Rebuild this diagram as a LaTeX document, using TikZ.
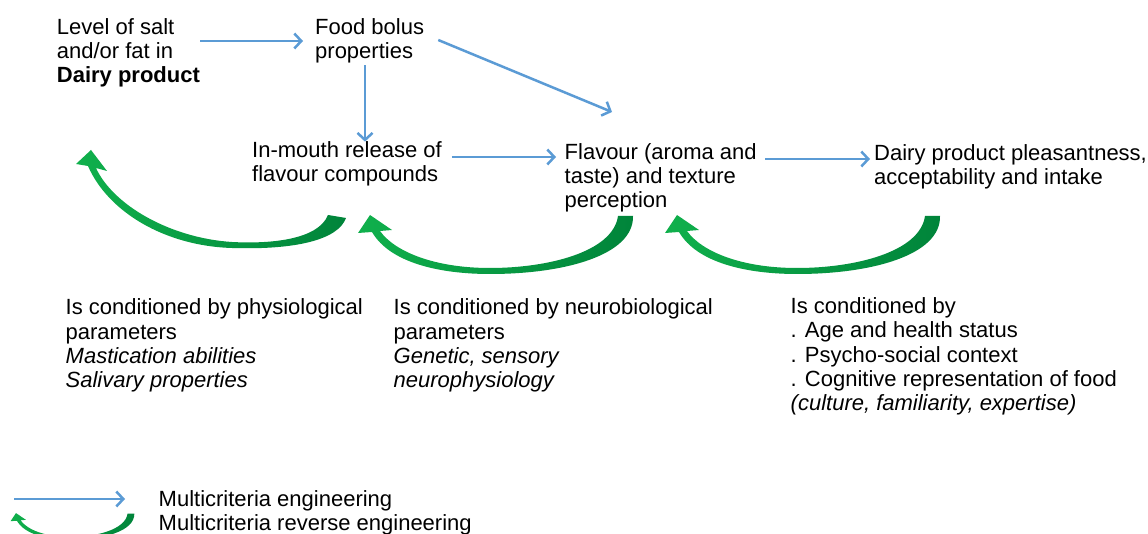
\documentclass[tikz,border=0pt]{standalone}
\usepackage{fontspec}
\setmainfont{Liberation Sans}
\usetikzlibrary{arrows.meta,calc}
\definecolor{bl}{HTML}{5B9BD5}
\definecolor{gbright}{HTML}{10B04C}
\definecolor{gdark}{HTML}{00843A}
\tikzset{
  txt/.style={anchor=base west, align=left, inner sep=0pt, font=\fontsize{22}{24.2}\selectfont},
  barrow/.style={draw=bl, line width=2.5pt, -{Straight Barb[length=7pt,width=15pt]}},
  gshade/.style={left color=gbright, middle color=gbright, right color=gdark},
  garrow/.pic={
    \shade[gshade] (618,216) .. controls (613,252) and (548,268) .. (490,268)
      .. controls (435,268) and (395,252) .. (380,231) -- (392,230) -- (370,215)
      -- (358,233) -- (372,232) .. controls (390,263) and (440,274) .. (490,274)
      .. controls (565,274) and (634,255) .. (633,216) -- cycle;
  }
}
\begin{document}
\begin{tikzpicture}[x=1pt,y=-1pt]
\useasboundingbox (0,0) rectangle (1148,534);
\fill[white] (0,0) rectangle (1148,534);
\clip (0,0) rectangle (1148,534);

% text nodes (positioned at the baseline of their last line)
\node[txt] (lvl) at (56.7,83) {Level of salt\\and/or fat in\\\textbf{Dairy product}};
\node[txt] (bolus) at (315,58.5) {Food bolus\\properties};
\node[txt] (release) at (252,182) {In-mouth release of\\flavour compounds};
\node[txt] (flavour) at (564.5,207.5) {Flavour (aroma and\\taste) and texture\\perception};
\node[txt] (dairy) at (874,185) {Dairy product pleasantness,\\acceptability and intake};
\node[txt] (phys) at (65.5,387.5) {Is conditioned by physiological\\parameters\\\textit{Mastication abilities}\\\textit{Salivary properties}};
\node[txt] (neuro) at (393.5,387.5) {Is conditioned by neurobiological\\parameters\\\textit{Genetic, sensory}\\\textit{neurophysiology}};
\node[txt] (cond) at (790.5,410.5) {Is conditioned by\\. Age and health status\\. Psycho-social context\\. Cognitive representation of food\\\textit{(culture, familiarity, expertise)}};
\node[txt] (leg1) at (158.5,506) {Multicriteria engineering};
\node[txt] (leg2) at (158.5,530) {Multicriteria reverse engineering};

% blue arrows
\coordinate (flin) at (612,112);
\coordinate (la) at (14,499);
\coordinate (lb) at (125,499);
\draw[barrow, shorten >=12pt] (lvl.east |- 0,41) -- (bolus.west |- 0,41);
\draw[barrow, shorten <=2pt] (bolus.south -| 365,0) -- (release.north -| 365,0);
\draw[barrow] ([xshift=14pt]bolus.east |- 0,40) -- (flin);
\draw[barrow, shorten <=10pt, shorten >=8.5pt] (release.east |- 0,157) -- (flavour.west |- 0,157);
\draw[barrow, shorten <=8.5pt, shorten >=4pt] (flavour.east |- 0,159) -- (dairy.west |- 0,159);
\draw[barrow] (la) -- (lb);

% green reverse arrows
\shade[gshade] (328,215) .. controls (318,240) and (270,244) .. (232,242)
  .. controls (170,238) and (113,205) .. (96,168) -- (107,171) -- (91,150)
  -- (76,164) -- (88,166) .. controls (108,212) and (165,246) .. (232,248)
  .. controls (295,250) and (338,240) .. (346,218) -- cycle;
\pic at (0,0) {garrow};
\pic at (307,0) {garrow};
\pic[scale=0.45] at (-150.5,416.35) {garrow};
\end{tikzpicture}
\end{document}
